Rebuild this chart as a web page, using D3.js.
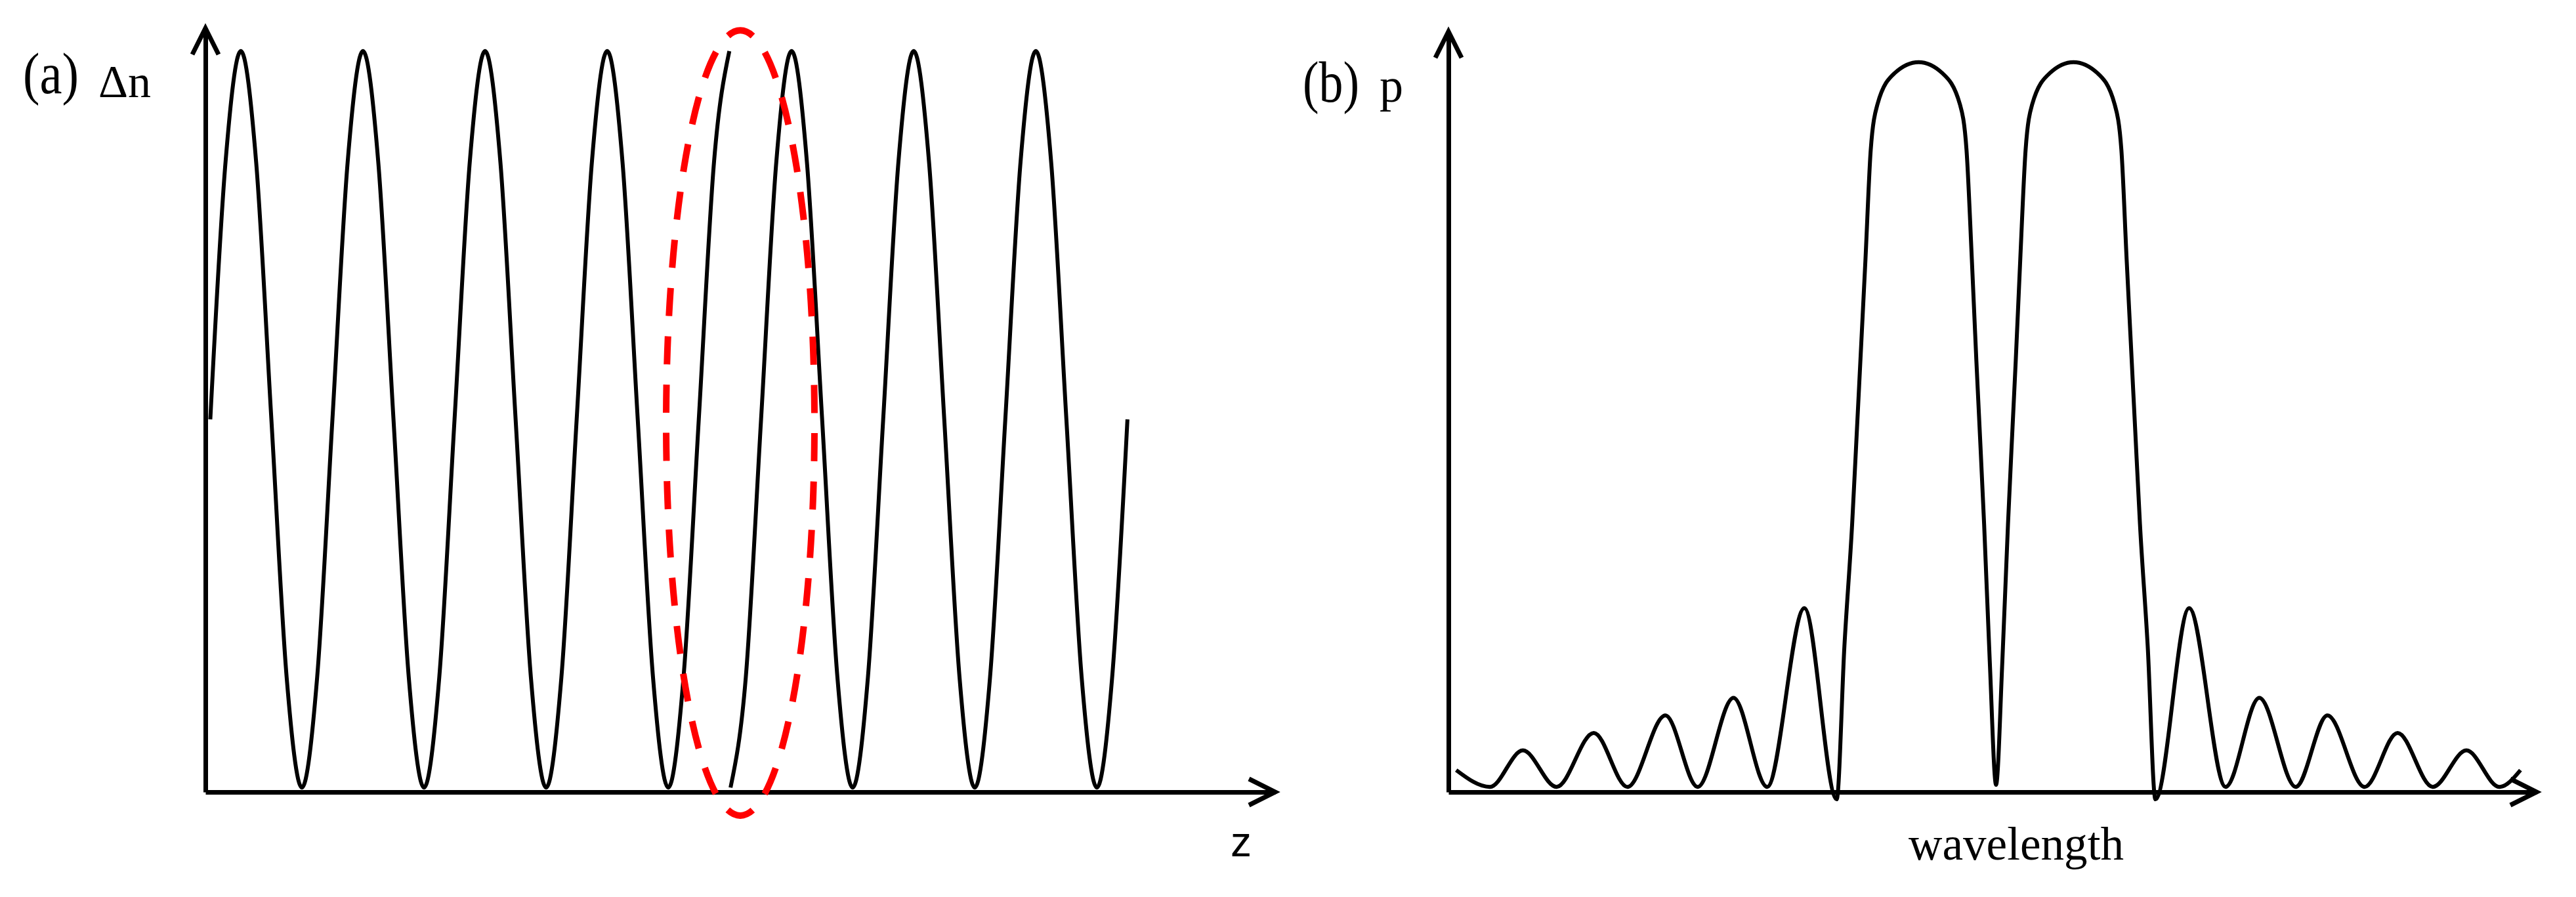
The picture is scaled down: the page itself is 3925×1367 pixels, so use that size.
<!DOCTYPE html>
<html>
<head>
<meta charset="utf-8">
<script src="https://cdn.jsdelivr.net/npm/d3@7"></script>
<style>
  html, body { margin: 0; padding: 0; background: #ffffff; }
  svg { display: block; }
</style>
</head>
<body>
<script>
// ---------------- DATA ----------------
// Panel (a): refractive-index modulation Δn along z (z in grating periods), π phase shift near z≈4.3
const zSeg1 = [0.04, 0.165, 0.29, 0.415, 0.54, 0.665, 0.79, 0.915,
               1.04, 1.165, 1.29, 1.415, 1.54, 1.665, 1.79, 1.915,
               2.04, 2.165, 2.29, 2.415, 2.54, 2.665, 2.79, 2.915,
               3.04, 3.165, 3.29, 3.415, 3.54, 3.665, 3.79, 3.915,
               4.04, 4.165, 4.29];
const dnSeg1 = [0.5, 0.85, 1, 0.85, 0.5, 0.15, 0, 0.15,
                0.5, 0.85, 1, 0.85, 0.5, 0.15, 0, 0.15,
                0.5, 0.85, 1, 0.85, 0.5, 0.15, 0, 0.15,
                0.5, 0.85, 1, 0.85, 0.5, 0.15, 0, 0.15,
                0.5, 0.85, 1];
const zSeg2 = [4.30, 4.425, 4.55, 4.675, 4.80, 4.925, 5.05, 5.175,
               5.30, 5.425, 5.55, 5.675, 5.80, 5.925, 6.05, 6.175,
               6.30, 6.425, 6.55, 6.675, 6.80, 6.925, 7.05, 7.175,
               7.30, 7.425, 7.55];
const dnSeg2 = [0, 0.15, 0.5, 0.85, 1, 0.85, 0.5, 0.15,
                0, 0.15, 0.5, 0.85, 1, 0.85, 0.5, 0.15,
                0, 0.15, 0.5, 0.85, 1, 0.85, 0.5, 0.15,
                0, 0.15, 0.5];
// highlight ellipse around the phase shift (data units)
const phaseMark = { z: 4.38, dn: 0.495, rz: 0.607, rdn: 0.533 };

// Panel (b): spectrum p vs wavelength (relative units, 0 = centre of transmission notch)
const wl = [-7.69, -7.21, -6.74, -6.26, -5.73, -5.25, -4.71, -4.25, -3.74, -3.26, -2.73, -2.27,
            -2.16, -2.05, -1.98, -1.86, -1.785, -1.69, -1.444, -1.103, -0.766, -0.514, -0.421,
            -0.345, -0.28, -0.235, -0.17, -0.09, 0,
            0.09, 0.17, 0.235, 0.28, 0.345, 0.421, 0.514, 0.766, 1.103, 1.444, 1.69, 1.785,
            1.86, 1.98, 2.05, 2.16,
            2.27, 2.75, 3.27, 3.75, 4.27, 4.72, 5.25, 5.72, 6.22, 6.70, 7.17, 7.47];
const pVal = [0.03, 0.007, 0.057, 0.007, 0.081, 0.007, 0.105, 0.007, 0.129, 0.007, 0.252, -0.01,
              0.20, 0.367, 0.50, 0.73, 0.88, 0.942, 0.985, 1.0, 0.985, 0.942, 0.88,
              0.73, 0.59, 0.50, 0.367, 0.18, 0.01,
              0.18, 0.367, 0.50, 0.59, 0.73, 0.88, 0.942, 0.985, 1.0, 0.985, 0.942, 0.88,
              0.73, 0.50, 0.367, 0.20,
              -0.01, 0.252, 0.007, 0.129, 0.007, 0.105, 0.007, 0.081, 0.007, 0.057, 0.007, 0.03];

const panelLabels = ["(a)", "(b)"];
const yTitles = ["Δn", "p"];
const xTitles = ["z", "wavelength"];

// ---------------- LAYOUT ----------------
const W = 3925, H = 1367;
const svg = d3.select("body").append("svg")
  .attr("width", W).attr("height", H)
  .style("background", "#fff");

const AX_W = 7, CURVE_W = 6;

// scales
const xA = d3.scaleLinear().domain([0, 8.76]).range([313, 1943]);
const yA = d3.scaleLinear().domain([-0.006, 1.031]).range([1207, 43]);
const xB = d3.scaleLinear().domain([-7.8, 7.7]).range([2207, 3865]);
const yB = d3.scaleLinear().domain([0, 1.042]).range([1207, 48]);

function drawAxes(x, y) {
  const g = svg.append("g");
  g.append("g")
    .attr("transform", `translate(0,${y.range()[0]})`)
    .call(d3.axisBottom(x).tickValues([]).tickSizeOuter(0));
  g.append("g")
    .attr("transform", `translate(${x.range()[0]},0)`)
    .call(d3.axisLeft(y).tickValues([]).tickSizeOuter(0));
  g.selectAll(".domain").attr("stroke", "#000").attr("stroke-width", AX_W);
  // open arrowheads
  const x1 = x.range()[1], y0 = y.range()[0], y1 = y.range()[1], x0 = x.range()[0];
  const len = 40, hw = 20;
  g.append("path")
    .attr("d", `M${x1 - len},${y0 - hw}L${x1},${y0}L${x1 - len},${y0 + hw}`)
    .attr("fill", "none").attr("stroke", "#000").attr("stroke-width", AX_W)
    .attr("stroke-linejoin", "miter");
  g.append("path")
    .attr("d", `M${x0 - hw},${y1 + len}L${x0},${y1}L${x0 + hw},${y1 + len}`)
    .attr("fill", "none").attr("stroke", "#000").attr("stroke-width", AX_W)
    .attr("stroke-linejoin", "miter");
}
drawAxes(xA, yA);
drawAxes(xB, yB);

// ---------------- PANEL (a) ----------------
const lineA = d3.line()
  .x(d => xA(d[0])).y(d => yA(d[1]))
  .curve(d3.curveMonotoneX);
[[zSeg1, dnSeg1], [zSeg2, dnSeg2]].forEach(([zs, vs]) => {
  svg.append("path")
    .datum(zs.map((z, i) => [z, vs[i]]))
    .attr("d", lineA)
    .attr("fill", "none").attr("stroke", "#000")
    .attr("stroke-width", CURVE_W);
});

// dashed ellipse
{
  const cx = xA(phaseMark.z), cy = yA(phaseMark.dn);
  const rx = xA(phaseMark.z + phaseMark.rz) - cx;
  const ry = cy - yA(phaseMark.dn + phaseMark.rdn);
  const el = svg.append("path")
    .attr("d", `M${cx},${cy - ry}A${rx},${ry} 0 1,1 ${cx},${cy + ry}A${rx},${ry} 0 1,1 ${cx},${cy - ry}`)
    .attr("fill", "none").attr("stroke", "#ff0000")
    .attr("stroke-width", 10);
  const L = el.node().getTotalLength();
  const period = L / 34, dash = period * 0.58;
  el.attr("stroke-dasharray", `${dash},${period - dash}`)
    .attr("stroke-dashoffset", dash / 2);
}

// ---------------- PANEL (b) ----------------
const lineB = d3.line()
  .x(d => xB(d[0])).y(d => yB(d[1]))
  .curve(d3.curveMonotoneX);
svg.append("path")
  .datum(wl.map((w, i) => [w, pVal[i]]))
  .attr("d", lineB)
  .attr("fill", "none").attr("stroke", "#000")
  .attr("stroke-width", CURVE_W)
  .attr("stroke-linejoin", "round");

// ---------------- TEXT ----------------
const serif = "'Liberation Serif', 'Times New Roman', serif";
function addText(str, x, y, size, family, len) {
  const t = svg.append("text")
    .attr("x", x).attr("y", y)
    .attr("font-family", family).attr("font-size", size)
    .attr("fill", "#000").text(str);
  if (len) t.attr("textLength", len).attr("lengthAdjust", "spacingAndGlyphs");
  return t;
}
addText(panelLabels[0], 35, 142, 88, serif, 85);
addText(yTitles[0], 150, 148, 70, serif, 80);
addText(panelLabels[1], 1985, 155, 88, serif, 86);
addText(yTitles[1], 2102, 155, 72, serif);
addText(xTitles[0], 1875, 1305, 64, "'Liberation Sans', Arial, sans-serif");
addText(xTitles[1], 2908, 1310, 72, serif, 328);
</script>
</body>
</html>
